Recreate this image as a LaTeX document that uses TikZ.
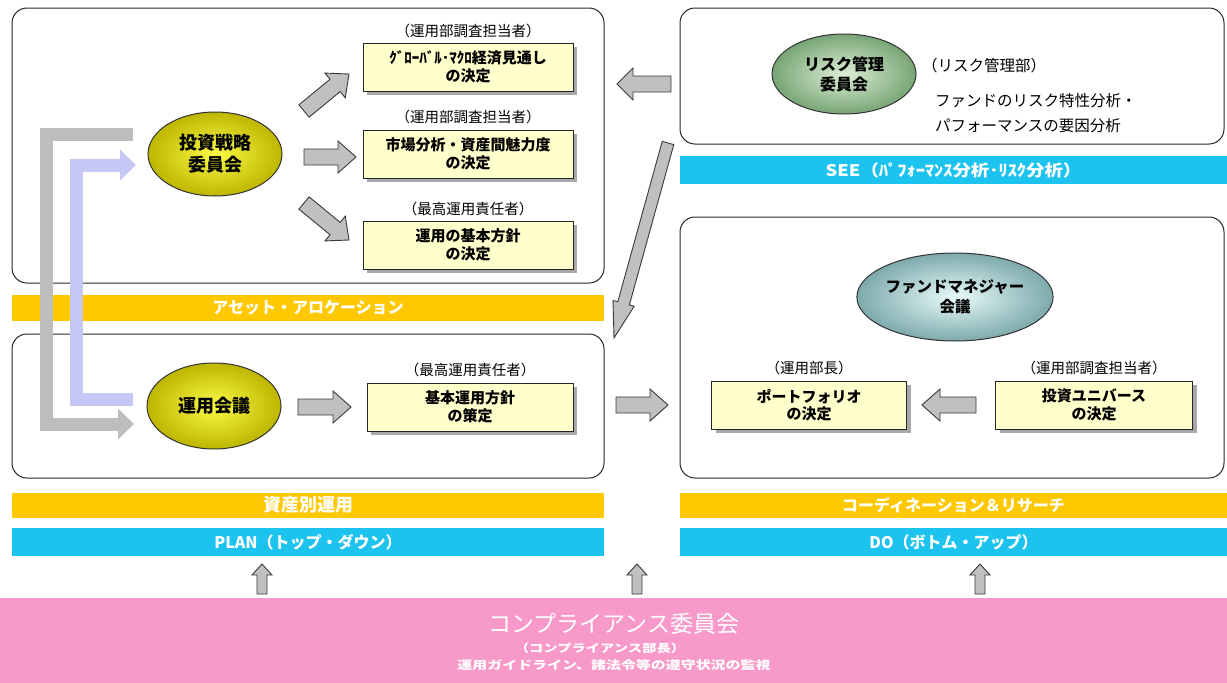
\documentclass[tikz,border=0pt]{standalone}
\usepackage{fontspec}
\setmainfont{Noto Sans CJK JP}
\newfontfamily\widejp[FakeStretch=1.3]{Noto Sans CJK JP}
\newfontfamily\midjp[FakeStretch=1.15]{Noto Sans CJK JP}
\usetikzlibrary{shapes.geometric,shadows,arrows.meta,calc}
\definecolor{barY}{HTML}{FFC800}
\definecolor{barC}{HTML}{1CC3EE}
\definecolor{pinkC}{HTML}{F799C9}
\definecolor{boxF}{HTML}{FFFFCC}
\definecolor{arrG}{HTML}{C0C0C0}
\definecolor{arrD}{HTML}{3A3A3A}
\definecolor{lav}{HTML}{C5C8F5}
\definecolor{lgray}{HTML}{BDBDBD}
\newcommand{\barrow}[6][]{%
  \coordinate (bN) at ($(#3)!#6!(#2)$);
  \draw[blockarrow,#1] ($(#2)!#4!90:(#3)$) -- ($(bN)!#4!90:(#3)$) -- ($(bN)!#5!90:(#3)$) -- (#3) -- ($(bN)!#5!-90:(#3)$) -- ($(bN)!#4!-90:(#3)$) -- ($(#2)!#4!-90:(#3)$) -- cycle;}
\tikzset{
  blockarrow/.style={fill=arrG, draw=arrD, line width=0.9pt, line join=miter},
  panel/.style={draw=black!85, line width=1pt, rounded corners=15pt, fill=white},
  ybox/.style={draw=black!85, line width=1pt, fill=boxF, minimum height=48pt, align=center,
    font=\bfseries\fontsize{15}{17.5}\selectfont,
    drop shadow={shadow xshift=4pt, shadow yshift=-4pt, fill=gray!75, opacity=0.9}},
  lbl/.style={font=\fontsize{14.5}{16}\selectfont, inner sep=0pt},
  ell/.style={ellipse, draw=black!80, line width=1pt, inner sep=0pt, align=center,
    font=\bfseries\fontsize{18}{22}\selectfont},
  yell/.style={ell, shading=radial, inner color={rgb,255:red,250;green,250;blue,70}, outer color={rgb,255:red,190;green,182;blue,0}},
  gell/.style={ell, shading=radial, inner color={rgb,255:red,220;green,238;blue,212}, outer color={rgb,255:red,120;green,165;blue,118}},
  tell/.style={ell, shading=radial, inner color={rgb,255:red,232;green,250;blue,250}, outer color={rgb,255:red,125;green,170;blue,172}},
  ybar/.style={fill=barY, minimum height=26pt, inner sep=0pt, text=white, font=\bfseries\fontsize{16}{18}\selectfont},
  cbar/.style={fill=barC, minimum height=28pt, inner sep=0pt, text=white, font=\bfseries\fontsize{16}{18}\selectfont},
}
\begin{document}
\begin{tikzpicture}[x=1pt,y=-1pt]
\useasboundingbox (0,0) rectangle (1227,683);
\fill[white] (0,0) rectangle (1227,683);
% panels
\draw[panel] (12,8) rectangle (604,283);
\draw[panel] (12,334) rectangle (604,478);
\draw[panel] (680,8) rectangle (1224,144);
\draw[panel] (680,217) rectangle (1224,478);
% bars
\node[ybar, minimum width=592pt] (bAA) at (308,308) {アセット・アロケーション};
\node[ybar, minimum width=592pt, minimum height=25pt, font=\bfseries\fontsize{18}{20}\selectfont] (bSS) at (308,505) {資産別運用};
\node[ybar, minimum width=547pt, minimum height=25pt] (bCR) at (953.5,505) {コーディネーション＆リサーチ};
\node[cbar, minimum width=592pt] (bPL) at (308,542) {PLAN（トップ・ダウン）};
\node[cbar, minimum width=547pt] (bDO) at (953.5,542) {DO（ボトム・アップ）};
\node[cbar, minimum width=547pt, font=\midjp\bfseries\fontsize{16}{18}\selectfont] (bSE) at (953.5,170) {SEE（ﾊﾟﾌｫｰﾏﾝｽ分析･ﾘｽｸ分析）};
% pink
\fill[pinkC] (0,598) rectangle (1227,683);
\node[text=white, font=\fontsize{23}{26}\selectfont, inner sep=0pt] (cT) at (614,624) {コンプライアンス委員会};
\node[text=white, font=\widejp\bfseries\fontsize{11}{13}\selectfont, inner sep=0pt] (cS) at (600,648) {（コンプライアンス部長）};
\node[text=white, font=\widejp\bfseries\fontsize{11.5}{14}\selectfont, inner sep=0pt] (cD) at (614,665) {運用ガイドライン、諸法令等の遵守状況の監視};
% ellipses
\node[yell, minimum width=134pt, minimum height=84pt] (e1) at (215,154) {投資戦略\\委員会};
\node[yell, minimum width=134pt, minimum height=86pt] (e2) at (214,406) {運用会議};
\node[gell, minimum width=144pt, minimum height=80pt, font=\bfseries\fontsize{16}{20}\selectfont] (e3) at (844,74) {リスク管理\\委員会};
\node[tell, minimum width=186pt, minimum height=88pt, font=\bfseries\fontsize{15.5}{20}\selectfont] (e4) at (955,297) {ファンドマネジャー\\会議};
% boxes
\node[ybox, minimum width=210pt] (x1) at (468,67) {ｸﾞﾛｰﾊﾞﾙ･ﾏｸﾛ経済見通し\\の決定};
\node[lbl] (l1) at (468,31) {（運用部調査担当者）};
\node[ybox, minimum width=210pt] (x2) at (468,154) {市場分析・資産間魅力度\\の決定};
\node[lbl] (l2) at (468,117) {（運用部調査担当者）};
\node[ybox, minimum width=210pt] (x3) at (468,245) {運用の基本方針\\の決定};
\node[lbl] (l3) at (468,209) {（最高運用責任者）};
\node[ybox, minimum width=206pt] (x4) at (470,407) {基本運用方針\\の策定};
\node[lbl] (l4) at (470,370) {（最高運用責任者）};
\node[ybox, minimum width=195pt] (x5) at (809,405) {ポートフォリオ\\の決定};
\node[lbl] (l5) at (809,368) {（運用部長）};
\node[ybox, minimum width=197pt] (x6) at (1094,405) {投資ユニバース\\の決定};
\node[lbl] (l6) at (1094,368) {（運用部調査担当者）};
% risk text
\node[anchor=west, font=\fontsize{15.5}{18}\selectfont, inner sep=0pt] (r1) at (922,66) {（リスク管理部）};
\node[anchor=west, font=\fontsize{15.5}{18}\selectfont, inner sep=0pt] (r2) at (935,101) {ファンドのリスク特性分析・};
\node[anchor=west, font=\fontsize{15.5}{18}\selectfont, inner sep=0pt] (r3) at (935,126) {パフォーマンスの要因分析};
% block arrows
\coordinate (a1s) at (304,111); \coordinate (a1e) at (349,74);
\coordinate (a2s) at (304,157); \coordinate (a2e) at (356,157);
\coordinate (a3s) at (304,203); \coordinate (a3e) at (349,240);
\coordinate (a4s) at (298,407); \coordinate (a4e) at (351,407);
\coordinate (a5s) at (616,405); \coordinate (a5e) at (668,405);
\coordinate (a6s) at (976,405); \coordinate (a6e) at (922,405);
\coordinate (a7s) at (671,84);  \coordinate (a7e) at (617,84);
\coordinate (a8s) at (668,143); \coordinate (a8e) at (614,338);
\barrow{a1s}{a1e}{8pt}{16pt}{18pt}
\barrow{a2s}{a2e}{8pt}{16pt}{18pt}
\barrow{a3s}{a3e}{8pt}{16pt}{18pt}
\barrow{a4s}{a4e}{8pt}{16pt}{18pt}
\barrow{a5s}{a5e}{8pt}{16pt}{18pt}
\barrow{a6s}{a6e}{8pt}{16pt}{18pt}
\barrow{a7s}{a7e}{8pt}{16pt}{16pt}
\barrow{a8s}{a8e}{6pt}{11pt}{36pt}
\foreach \n/\xx in {u1/262,u2/637,u3/980}{
  \coordinate (\n s) at (\xx,594); \coordinate (\n e) at (\xx,564);
  \barrow{\n s}{\n e}{5pt}{10pt}{11pt}
}
% L-shaped arrows
\coordinate (g1) at (133,134); \coordinate (g2) at (46,134);
\coordinate (g3) at (46,424); \coordinate (g4) at (134,424);
\draw[lgray, line width=13pt, line join=miter, -{Triangle[length=16pt,width=30pt]}] (g1) -- (g2) -- (g3) -- (g4);
\coordinate (v1) at (133,399); \coordinate (v2) at (76,399);
\coordinate (v3) at (76,165); \coordinate (v4) at (136,165);
\draw[lav, line width=13pt, line join=miter, -{Triangle[length=16pt,width=30pt]}] (v1) -- (v2) -- (v3) -- (v4);
\end{tikzpicture}
\end{document}
